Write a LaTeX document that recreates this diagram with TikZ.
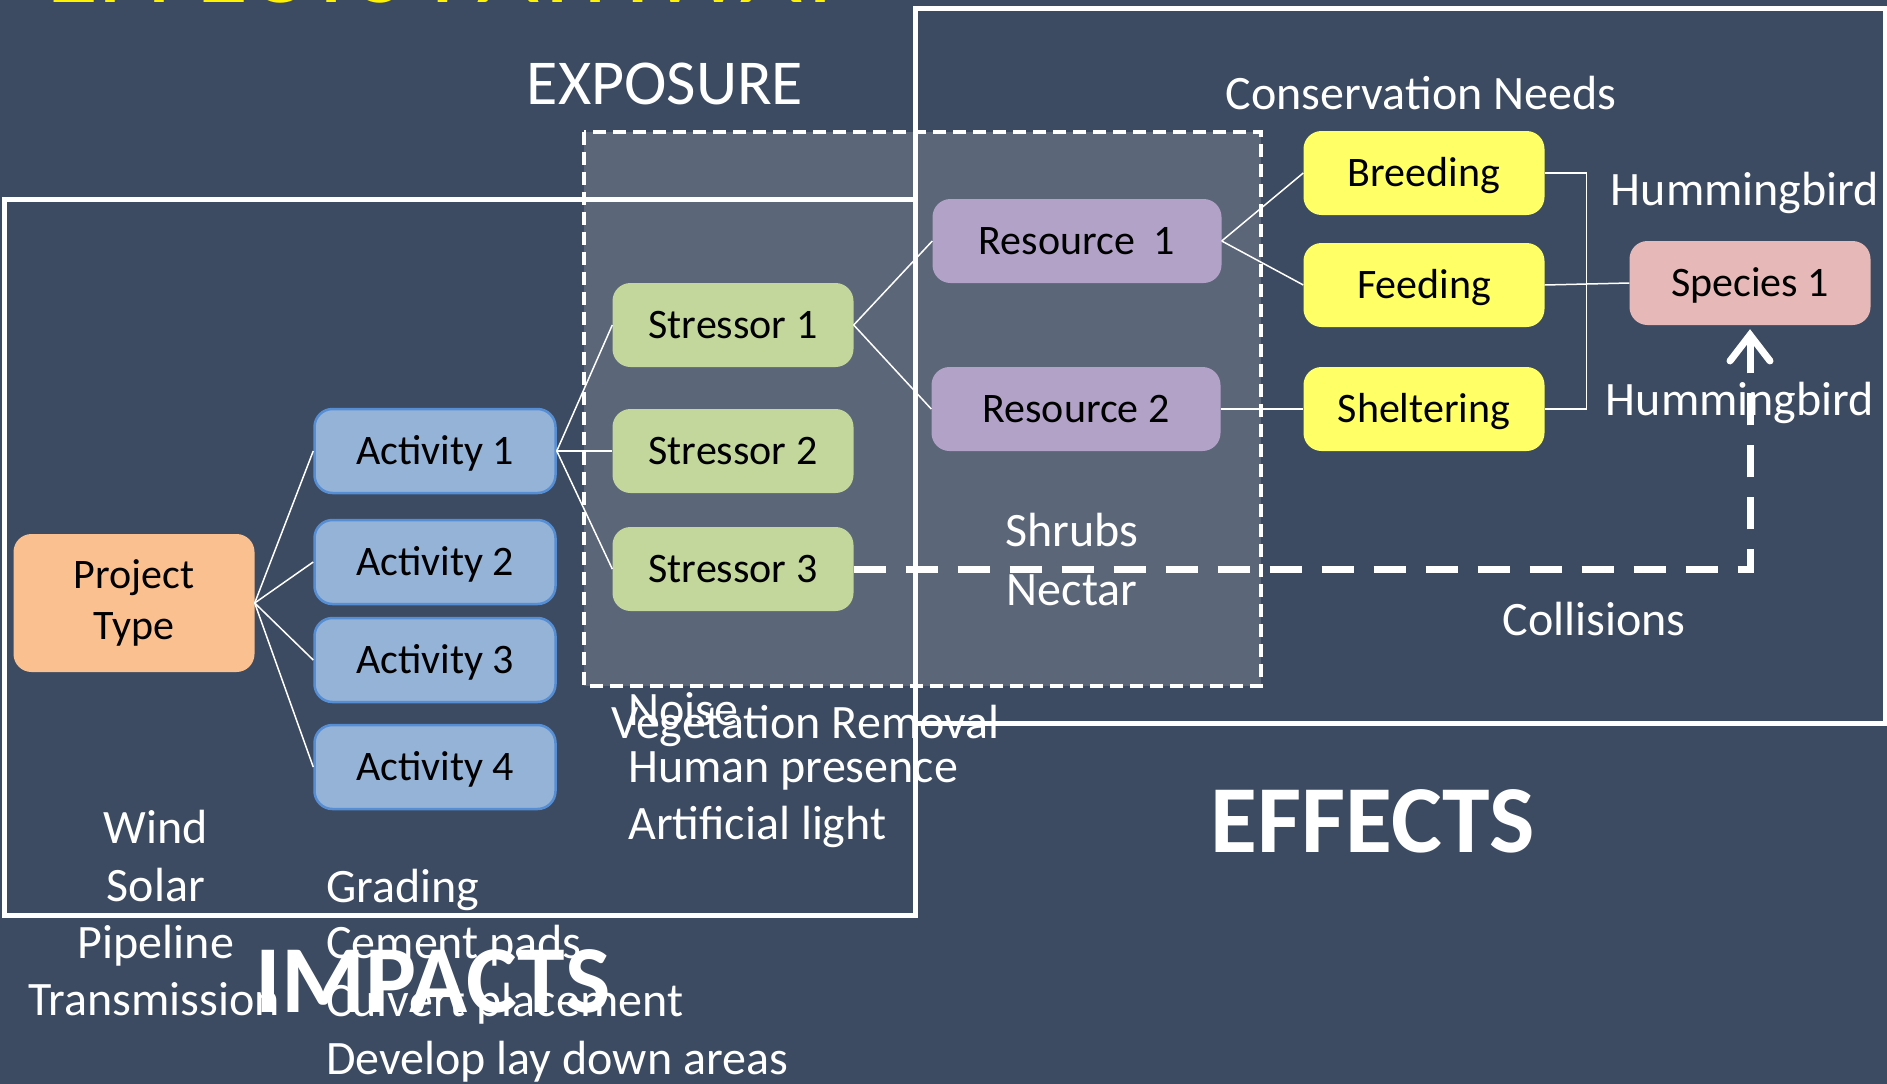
\documentclass[tikz,border=0pt]{standalone}
\usepackage{fontspec}
\setmainfont{Carlito}
\usetikzlibrary{arrows.meta}
\definecolor{bg}{HTML}{3C4B61}
\definecolor{expo}{HTML}{5B6678}
\definecolor{ptype}{HTML}{FAC090}
\definecolor{act}{HTML}{95B3D7}
\definecolor{actb}{HTML}{558ED5}
\definecolor{str}{HTML}{C3D69B}
\definecolor{res}{HTML}{B3A2C7}
\definecolor{need}{HTML}{FFFF66}
\definecolor{spec}{HTML}{E6B9B8}
\tikzset{
  basebox/.style={rectangle, rounded corners=18pt, minimum width=241pt, minimum height=84pt,
    inner sep=0pt, text=black, font=\fontsize{42}{51}\selectfont},
  box/.style={basebox, text height=27pt, text depth=0pt},
  ptbox/.style={basebox, fill=ptype, minimum height=138pt, align=center},
  actbox/.style={box, fill=act, draw=actb, line width=2.5pt},
  strbox/.style={box, fill=str},
  resbox/.style={box, fill=res, minimum width=289pt},
  needbox/.style={box, fill=need},
  specbox/.style={box, fill=spec},
  conn/.style={draw=white, line width=1.5pt},
  lbl/.style={text=white, inner sep=0pt, font=\fontsize{48}{52}\selectfont, text height=31pt, text depth=0pt},
  bigtitle/.style={text=white, inner sep=0pt, font=\fontsize{96}{100}\selectfont\bfseries, text height=62pt, text depth=0pt},
  framebox/.style={draw=white, line width=5pt},
  dasharrow/.style={draw=white, line width=7pt, dash pattern=on 32pt off 20pt,
    -{Straight Barb[length=26pt, width=40pt, line width=7pt, line cap=round]}, shorten >=4pt}
}
\begin{document}
\begin{tikzpicture}[x=1pt, y=-1pt]
\clip (0,0) rectangle (1887,1084);
\fill[bg] (0,0) rectangle (1887,1084);
\useasboundingbox (0,0) rectangle (1887,1084);

% cut-off title
\node[anchor=base west, text=yellow, inner sep=0pt, font=\fontsize{107}{110}\selectfont] (title) at (46,2.5) {EFFECTS PATHWAY};

% exposure region
\draw[white, line width=4pt, dash pattern=on 13pt off 7pt, fill=expo] (584,132) rectangle (1261,686);

% impacts and effects frames
\draw[framebox] (4,199) rectangle (915,915);
\draw[framebox] (915,8) rectangle (1885,723);

% nodes
\node[ptbox] (pt) at (134,603) {Project\\Type};
\node[actbox] (a1) at (435,451) {Activity 1};
\node[actbox] (a2) at (435,562) {Activity 2};
\node[actbox] (a3) at (435,660) {Activity 3};
\node[actbox] (a4) at (435,767) {Activity 4};
\node[strbox] (s1) at (733,325) {Stressor 1};
\node[strbox] (s2) at (733,451) {Stressor 2};
\node[strbox] (s3) at (733,569) {Stressor 3};
\node[resbox] (r1) at (1077,241) {Resource\ \ 1};
\node[resbox] (r2) at (1076,409) {Resource 2};
\node[needbox] (br) at (1424,173) {Breeding};
\node[needbox] (fe) at (1424,285) {Feeding};
\node[needbox] (sh) at (1424,409) {Sheltering};
\node[specbox] (sp) at (1750,283) {Species 1};

% connectors
\foreach \t in {a1,a2,a3,a4} \draw[conn] (pt.east) -- (\t.west);
\foreach \t in {s1,s2,s3} \draw[conn] (a1.east) -- (\t.west);
\draw[conn] (s1.east) -- (r1.west);
\draw[conn] (s1.east) -- (r2.west);
\draw[conn] (r1.east) -- (br.west);
\draw[conn] (r1.east) -- (fe.west);
\draw[conn] (r2.east) -- (sh.west);
\draw[conn] (br.east) -- ++(42,0) |- (sh.east);
\draw[conn] (fe.east) -- (sp.west);

% labels
\node[lbl, font=\fontsize{64}{68}\selectfont, text height=41pt] (lexp) at (665,84) {EXPOSURE};
\node[lbl] (lcons) at (1421,94) {Conservation Needs};
\node[lbl] (lhum1) at (1745,190) {Hummingbird};
\node[lbl] (lhum2) at (1740,400) {Hummingbird};
\node[lbl] (lshr) at (1072,531) {Shrubs};
\node[lbl] (lnec) at (1072,590) {Nectar};
\node[lbl] (lcol) at (1594,620) {Collisions};
\node[bigtitle] (leff) at (1373,821) {EFFECTS};

\node[lbl, anchor=west] (lnoise) at (628,710) {Noise};
\node[lbl, anchor=west] (lveg) at (611,723) {Vegetation Removal};
\node[lbl, anchor=west] (lhp) at (628,767) {Human presence};
\node[lbl, anchor=west] (lal) at (628,824) {Artificial light};

\node[lbl] (lwind) at (156,828) {Wind};
\node[lbl] (lsol) at (156,886) {Solar};
\node[lbl] (lpipe) at (156,943) {Pipeline};
\node[lbl] (ltran) at (154,1000) {Transmission};

\node[lbl, anchor=west] (lgrad) at (326,887) {Grading};
\node[lbl, anchor=west] (lcem) at (326,943) {Cement pads};
\node[lbl, anchor=west] (lculv) at (326,1001) {Culvert placement};
\node[lbl, anchor=west] (ldev) at (326,1059) {Develop lay down areas};

\node[bigtitle] (limp) at (433,981) {IMPACTS};

% collision pathway
\draw[dasharrow] (s3.east) -| (sp.south);
\end{tikzpicture}
\end{document}
